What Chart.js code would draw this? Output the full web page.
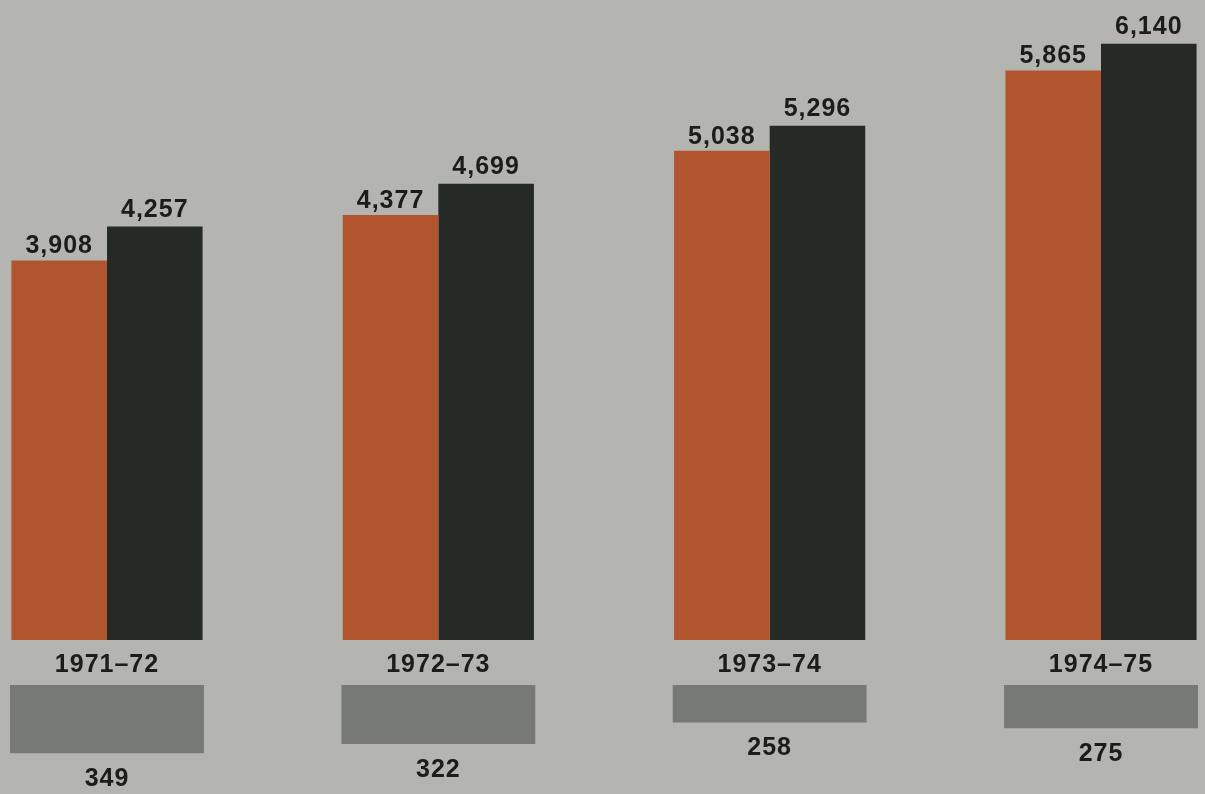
<!DOCTYPE html>
<html>
<head>
<meta charset="utf-8">
<script src="https://cdn.jsdelivr.net/npm/chart.js@4"></script>
<style>
    html, body { margin: 0; padding: 0; background: #b4b5b1; }
    #wrap { position: relative; width: 1205px; height: 794px; overflow: hidden; }
    canvas { position: absolute; left: 0; }
    #mainChart { top: 0; }
    #diffChart { top: 640px; }
</style>
</head>
<body>
<div id="wrap">
    <canvas id="mainChart" width="1205" height="650"></canvas>
    <canvas id="diffChart" width="1205" height="154"></canvas>
</div>
<script>
const years = ["1971\u201372", "1972\u201373", "1973\u201374", "1974\u201375"];
const orangeValues = [3908, 4377, 5038, 5865];
const darkValues = [4257, 4699, 5296, 6140];
const greyValues = [349, 322, 258, 275];

const font = "bold 25px 'Liberation Sans', Arial, sans-serif";
const textColor = "#1c1c1c";

function fmt(n) {
    return n.toLocaleString("en-US");
}

// value labels above the tall bars
const topLabels = {
    id: "topLabels",
    afterDatasetsDraw(chart) {
        const ctx = chart.ctx;
        ctx.save();
        ctx.font = font;
        ctx.letterSpacing = "1px";
        ctx.fillStyle = textColor;
        ctx.textAlign = "center";
        ctx.textBaseline = "alphabetic";
        chart.data.datasets.forEach(function(ds, i) {
            chart.getDatasetMeta(i).data.forEach(function(bar, j) {
                ctx.fillText(fmt(ds.data[j]), bar.x, bar.y - ds.labelGap);
            });
        });
        ctx.restore();
    }
};

// year labels and the small numbers under the grey bars
const bottomLabels = {
    id: "bottomLabels",
    afterDatasetsDraw(chart) {
        const ctx = chart.ctx;
        const xScale = chart.scales.x;
        ctx.save();
        ctx.font = font;
        ctx.letterSpacing = "1px";
        ctx.fillStyle = textColor;
        ctx.textAlign = "center";
        ctx.textBaseline = "alphabetic";
        years.forEach(function(y, j) {
            ctx.fillText(y, xScale.getPixelForValue(j), 32);
        });
        chart.getDatasetMeta(0).data.forEach(function(bar, j) {
            ctx.fillText(fmt(greyValues[j]), bar.x, bar.y + 33);
        });
        ctx.restore();
    }
};

const xAxis = {
    type: "category",
    offset: false,
    display: false
};

new Chart(document.getElementById("mainChart"), {
    type: "bar",
    data: {
        labels: years,
        datasets: [
            {
                label: "Orange",
                data: orangeValues,
                backgroundColor: "#b1552f",
                labelGap: 7
            },
            {
                label: "Dark",
                data: darkValues,
                backgroundColor: "#262a27",
                labelGap: 10
            }
        ]
    },
    options: {
        responsive: false,
        animation: false,
        clip: false,
        layout: { padding: { left: 107, right: 104, top: 0, bottom: 10 } },
        datasets: {
            bar: { categoryPercentage: 0.577, barPercentage: 1.0, borderWidth: 0 }
        },
        scales: {
            x: xAxis,
            y: { display: false, min: 0, max: 6590 }
        },
        plugins: {
            legend: { display: false },
            tooltip: { enabled: false }
        }
    },
    plugins: [topLabels]
});

new Chart(document.getElementById("diffChart"), {
    type: "bar",
    data: {
        labels: years,
        datasets: [
            {
                label: "Difference",
                data: greyValues,
                backgroundColor: "#777976",
                grouped: false,
                base: 147,
                categoryPercentage: 0.585,
                barPercentage: 1.0,
                borderWidth: 0
            }
        ]
    },
    options: {
        responsive: false,
        animation: false,
        clip: false,
        layout: { padding: { left: 107, right: 104, top: 45, bottom: 0 } },
        scales: {
            x: xAxis,
            y: { display: false, reverse: true, min: 147, max: 470 }
        },
        plugins: {
            legend: { display: false },
            tooltip: { enabled: false }
        }
    },
    plugins: [bottomLabels]
});
</script>
</body>
</html>
